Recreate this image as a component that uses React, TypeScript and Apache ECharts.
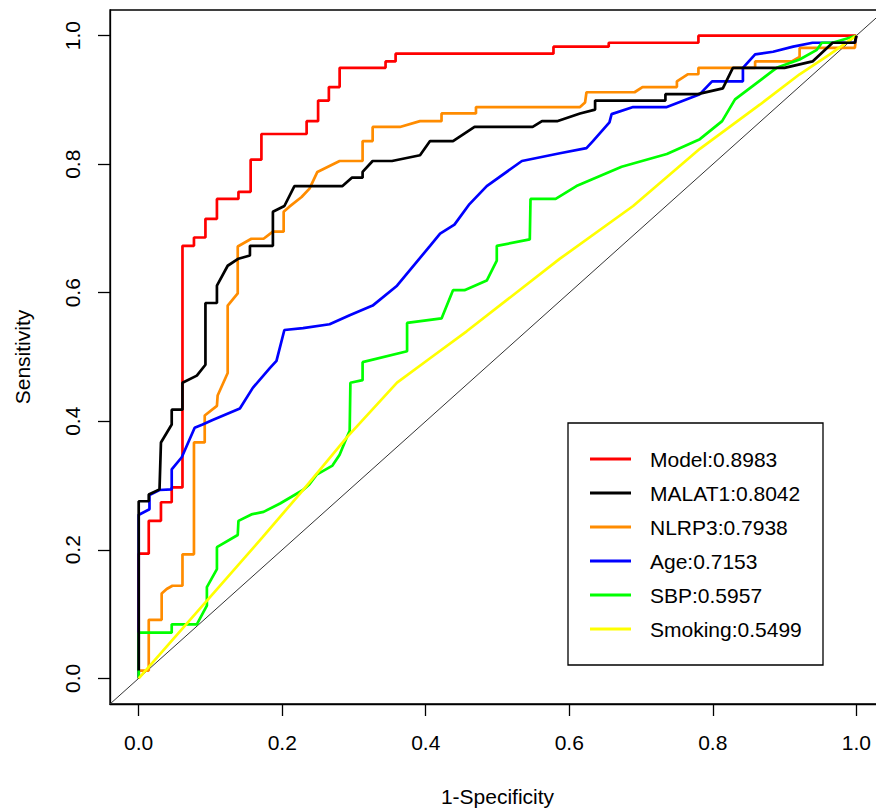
import React, { useEffect, useRef } from "react";
import * as echarts from "echarts";

// ---- Data ----
const curveNames = ["Model", "MALAT1", "NLRP3", "Age", "SBP", "Smoking"];
const aucValues = [0.8983, 0.8042, 0.7938, 0.7153, 0.5957, 0.5499];
const tickValues = [0, 0.2, 0.4, 0.6, 0.8, 1.0];
const axisRange = [-0.04, 1.04];
const referenceLine = [
  [-0.04, -0.04],
  [1.04, 1.04],
];

const modelRoc = [
  [0, 0], [0, 0.194], [0.014, 0.194], [0.014, 0.245], [0.031, 0.245], [0.031, 0.274],
  [0.046, 0.274], [0.046, 0.297], [0.061, 0.297], [0.061, 0.673], [0.077, 0.673],
  [0.077, 0.686], [0.093, 0.686], [0.093, 0.715], [0.109, 0.715], [0.109, 0.746],
  [0.139, 0.746], [0.139, 0.757], [0.156, 0.757], [0.156, 0.807], [0.171, 0.807],
  [0.171, 0.847], [0.234, 0.847], [0.234, 0.867], [0.25, 0.867], [0.25, 0.899],
  [0.265, 0.899], [0.265, 0.92], [0.28, 0.92], [0.28, 0.95], [0.344, 0.95],
  [0.344, 0.96], [0.358, 0.96], [0.358, 0.972], [0.578, 0.972], [0.578, 0.983],
  [0.655, 0.983], [0.655, 0.989], [0.78, 0.989], [0.78, 1], [1, 1],
];

const malat1Roc = [
  [0, 0.012], [0, 0.2755], [0.014, 0.2755], [0.014, 0.286], [0.029, 0.294], [0.031, 0.367],
  [0.046, 0.395], [0.046, 0.418], [0.061, 0.418], [0.061, 0.46], [0.081, 0.471],
  [0.093, 0.488], [0.093, 0.584], [0.109, 0.584], [0.109, 0.611], [0.124, 0.642],
  [0.139, 0.653], [0.155, 0.658], [0.155, 0.673], [0.187, 0.673], [0.187, 0.726],
  [0.203, 0.735], [0.217, 0.766], [0.284, 0.766], [0.297, 0.779], [0.312, 0.779],
  [0.312, 0.788], [0.326, 0.805], [0.353, 0.805], [0.392, 0.814], [0.406, 0.836],
  [0.438, 0.836], [0.468, 0.858], [0.549, 0.858], [0.562, 0.867], [0.583, 0.867],
  [0.615, 0.879], [0.636, 0.885], [0.636, 0.899], [0.734, 0.899], [0.734, 0.909],
  [0.779, 0.909], [0.814, 0.918], [0.828, 0.95], [0.9, 0.95], [0.939, 0.96],
  [0.967, 0.989], [0.998, 0.989], [1, 1],
];

const nlrp3Roc = [
  [0, 0], [0, 0.012], [0.014, 0.012], [0.014, 0.091], [0.032, 0.091], [0.032, 0.132],
  [0.039, 0.139], [0.047, 0.144], [0.061, 0.144], [0.061, 0.193], [0.077, 0.193],
  [0.077, 0.367], [0.092, 0.367], [0.092, 0.409], [0.109, 0.424], [0.11, 0.44],
  [0.124, 0.475], [0.124, 0.58], [0.138, 0.599], [0.138, 0.672], [0.157, 0.684],
  [0.174, 0.684], [0.187, 0.695], [0.202, 0.695], [0.202, 0.726], [0.21, 0.734],
  [0.227, 0.749], [0.238, 0.762], [0.249, 0.788], [0.28, 0.805], [0.312, 0.805],
  [0.312, 0.836], [0.326, 0.836], [0.326, 0.858], [0.364, 0.858], [0.392, 0.867],
  [0.422, 0.867], [0.422, 0.879], [0.47, 0.879], [0.47, 0.889], [0.615, 0.889],
  [0.622, 0.896], [0.624, 0.912], [0.691, 0.912], [0.702, 0.92], [0.75, 0.92],
  [0.75, 0.929], [0.765, 0.94], [0.78, 0.94], [0.78, 0.95], [0.859, 0.95],
  [0.859, 0.96], [0.91, 0.96], [0.921, 0.967], [0.921, 0.981], [0.998, 0.981], [1, 1],
];

const ageRoc = [
  [0, 0], [0, 0.255], [0.001, 0.255], [0.015, 0.263], [0.015, 0.285], [0.029, 0.293],
  [0.046, 0.294], [0.046, 0.325], [0.06, 0.344], [0.078, 0.39], [0.089, 0.395],
  [0.103, 0.402], [0.141, 0.42], [0.159, 0.452], [0.183, 0.483], [0.192, 0.494],
  [0.203, 0.542], [0.229, 0.545], [0.266, 0.551], [0.294, 0.565], [0.326, 0.58],
  [0.36, 0.611], [0.406, 0.673], [0.42, 0.692], [0.44, 0.706], [0.461, 0.738],
  [0.485, 0.766], [0.534, 0.805], [0.587, 0.817], [0.624, 0.825], [0.633, 0.836],
  [0.656, 0.865], [0.659, 0.878], [0.689, 0.889], [0.736, 0.889], [0.782, 0.909],
  [0.799, 0.929], [0.842, 0.929], [0.842, 0.95], [0.859, 0.971], [0.884, 0.975],
  [0.912, 0.983], [0.939, 0.989], [0.998, 0.989], [1, 1],
];

const sbpRoc = [
  [0, 0], [0, 0.071], [0.046, 0.071], [0.046, 0.084], [0.081, 0.084], [0.095, 0.113],
  [0.095, 0.142], [0.109, 0.17], [0.109, 0.204], [0.138, 0.223], [0.139, 0.245],
  [0.157, 0.255], [0.174, 0.259], [0.197, 0.272], [0.229, 0.293], [0.238, 0.302],
  [0.248, 0.317], [0.27, 0.331], [0.28, 0.348], [0.29, 0.375], [0.294, 0.385],
  [0.295, 0.46], [0.312, 0.464], [0.312, 0.492], [0.374, 0.509], [0.374, 0.553],
  [0.422, 0.56], [0.438, 0.604], [0.454, 0.604], [0.485, 0.619], [0.499, 0.65],
  [0.499, 0.673], [0.545, 0.683], [0.546, 0.746], [0.581, 0.746], [0.61, 0.766],
  [0.673, 0.796], [0.736, 0.816], [0.782, 0.839], [0.813, 0.867], [0.831, 0.901],
  [0.882, 0.944], [0.889, 0.95], [0.921, 0.963], [0.945, 0.978], [0.952, 0.989],
  [0.967, 0.989], [1, 1],
];

const smokingRoc = [
  [0, 0], [0.015, 0.019], [0.173, 0.22], [0.229, 0.293], [0.29, 0.375], [0.36, 0.46],
  [0.406, 0.498], [0.457, 0.54], [0.587, 0.653], [0.689, 0.735], [0.782, 0.824],
  [0.866, 0.893], [0.921, 0.94], [0.963, 0.971], [1, 1],
];

const curveData = [modelRoc, malat1Roc, nlrp3Roc, ageRoc, sbpRoc, smokingRoc];

// ---- Styles ----
const curveColors = ["#FF0000", "#000000", "#FF8C00", "#0000FF", "#00FF00", "#FFFF00"];
const drawOrder = [0, 2, 3, 4, 5, 1];
const FONT = "'Liberation Sans', Arial, Helvetica, sans-serif";

export default function App() {
  const ref = useRef<HTMLDivElement>(null);

  useEffect(() => {
    if (!ref.current) return;
    const chart = echarts.init(ref.current, undefined, { renderer: "svg" });

    const curveSeries = drawOrder.map((i) => ({
      name: curveNames[i],
      type: "line",
      data: curveData[i],
      showSymbol: false,
      symbol: "none",
      silent: true,
      lineStyle: { color: curveColors[i], width: 2.7 },
      emphasis: { disabled: true },
    }));

    const legendX = 568;
    const legendY = 423;
    const rowY0 = 459;
    const rowGap = 34;

    const legendGraphics: any[] = [
      {
        type: "rect",
        shape: { x: legendX, y: legendY, width: 255, height: 242 },
        style: { fill: "#fff", stroke: "#000", lineWidth: 1.3 },
        z: 100,
      },
    ];
    curveNames.forEach((name, i) => {
      legendGraphics.push({
        type: "line",
        shape: { x1: 590, y1: rowY0 + i * rowGap, x2: 631, y2: rowY0 + i * rowGap },
        style: { stroke: curveColors[i], lineWidth: 3 },
        z: 101,
      });
      legendGraphics.push({
        type: "text",
        x: 650,
        y: rowY0 + i * rowGap,
        style: {
          text: `${name}:${aucValues[i].toFixed(4)}`,
          fontSize: 21,
          fontFamily: FONT,
          fill: "#000",
          align: "left",
          verticalAlign: "middle",
        },
        z: 101,
      });
    });

    const axisCommon = {
      type: "value",
      min: axisRange[0],
      max: axisRange[1],
      nameLocation: "middle",
      nameTextStyle: { fontFamily: FONT, fontSize: 21, color: "#000" },
      axisLine: { show: true, onZero: false, lineStyle: { color: "#000", width: 1.3 } },
      axisTick: {
        show: true,
        inside: false,
        length: 12,
        customValues: tickValues,
        lineStyle: { color: "#000", width: 1.3 },
      },
      splitLine: { show: false },
    };

    chart.setOption({
      animation: false,
      backgroundColor: "#fff",
      grid: {
        left: 110,
        top: 10,
        width: 775,
        height: 698,
        show: true,
        borderColor: "#000",
        borderWidth: 1.3,
        backgroundColor: "transparent",
      },
      xAxis: {
        ...axisCommon,
        name: "1-Specificity",
        nameGap: 82,
        axisLabel: {
          customValues: tickValues,
          formatter: (v: number) => v.toFixed(1),
          margin: 28,
          fontFamily: FONT,
          fontSize: 21,
          color: "#000",
        },
      },
      yAxis: {
        ...axisCommon,
        name: "Sensitivity",
        nameGap: 77,
        nameRotate: 90,
        axisLabel: {
          customValues: tickValues,
          formatter: (v: number) => v.toFixed(1),
          margin: 27,
          rotate: 90,
          fontFamily: FONT,
          fontSize: 21,
          color: "#000",
        },
      },
      series: [
        {
          name: "reference",
          type: "line",
          data: referenceLine,
          showSymbol: false,
          symbol: "none",
          silent: true,
          lineStyle: { color: "#333", width: 1 },
          emphasis: { disabled: true },
        },
        ...curveSeries,
      ],
      graphic: legendGraphics,
    });

    return () => chart.dispose();
  }, []);

  return (
    <div
      style={{
        position: "fixed",
        left: 0,
        top: 0,
        width: 876,
        height: 812,
        overflow: "hidden",
        background: "#fff",
      }}
    >
      <div ref={ref} style={{ width: 900, height: 812 }} />
    </div>
  );
}
